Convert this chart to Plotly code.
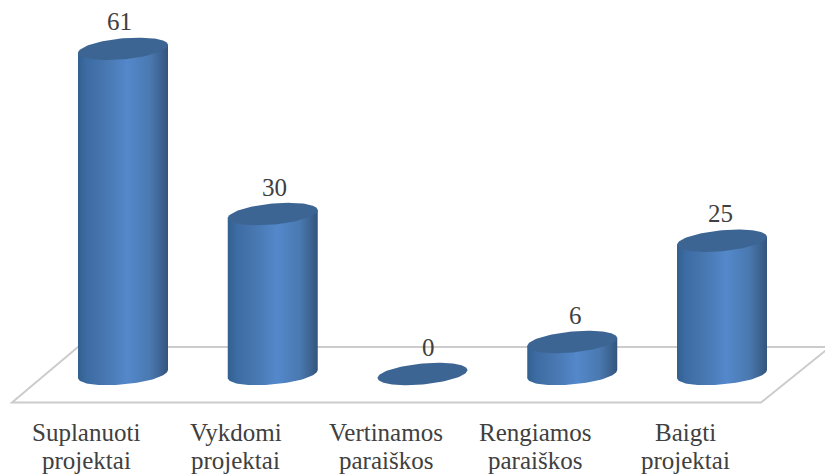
import numpy as np
import plotly.graph_objects as go

categories = [["Suplanuoti", "projektai"], ["Vykdomi", "projektai"], ["Vertinamos", "paraiškos"],
              ["Rengiamos", "paraiškos"], ["Baigti", "projektai"]]
values = [61, 30, 0, 6, 25]
value_label_shift_x = [-4, 2, 6, 3, -2]

W, H = 825, 475
PX_X = 149.75      # pixels per category
PX_Y = 5.33        # pixels per unit
X0_PX, Y0_PX = 123, 374

half_w = 45 / PX_X
minor = 10.5 / PX_Y
shear = 4 / PX_Y
t = np.linspace(0, 2 * np.pi, 121)
t_low = np.linspace(2 * np.pi, np.pi, 61)   # right -> left along the front edge

gradient = [[0, "#32608f"], [0.1, "#3d6ca4"], [0.3, "#4877b0"], [0.55, "#5388cb"],
            [0.8, "#4a79b0"], [0.93, "#3c628f"], [1, "#34547d"]]
cap = "#3d6593"

fig = go.Figure()
for i, v in enumerate(values):
    if v > 0:
        xb = i + half_w * np.cos(t_low)
        yb = minor * np.sin(t_low) + shear * np.cos(t_low)
        xs = np.concatenate([[i - half_w, i + half_w], xb])
        ys = np.concatenate([[v - shear, v + shear], yb])
        fig.add_trace(go.Scatter(
            x=xs, y=ys, mode="lines", line=dict(width=0), fill="toself",
            fillgradient=dict(type="horizontal", colorscale=gradient),
            hoverinfo="skip", showlegend=False))
    fig.add_trace(go.Scatter(
        x=i + half_w * np.cos(t), y=v + minor * np.sin(t) + shear * np.cos(t),
        mode="lines", line=dict(width=0), fill="toself", fillcolor=cap,
        hoverinfo="skip", showlegend=False))

annotations = []
label_font = dict(family="Liberation Serif", size=25, color="#404040")
for i, (c, v) in enumerate(zip(categories, values)):
    for j, line in enumerate(c):
        annotations.append(dict(x=i, y=0, xref="x", yref="y", text=line, showarrow=False,
                                xshift=-37, yshift=-58 - 28.5 * j, align="center", font=label_font))
    annotations.append(dict(x=i, y=v, xref="x", yref="y", text=str(v), showarrow=False,
                            xshift=value_label_shift_x[i], yshift=27, font=label_font))

floor = dict(type="path", xref="paper", yref="paper", layer="below",
             path=f"M {12/W} {1-402.5/H} L {78/W} {1-347/H} L {830/W} {1-347/H} L {761/W} {1-402.5/H} Z",
             line=dict(color="#cccccc", width=2), fillcolor="rgba(0,0,0,0)")

fig.update_layout(
    width=W, height=H, margin=dict(l=0, r=0, t=0, b=0),
    paper_bgcolor="white", plot_bgcolor="white", showlegend=False,
    xaxis=dict(range=[-X0_PX / PX_X, (W - X0_PX) / PX_X], visible=False, fixedrange=True),
    yaxis=dict(range=[-(H - Y0_PX) / PX_Y, Y0_PX / PX_Y], visible=False, fixedrange=True),
    shapes=[floor], annotations=annotations,
)
fig.write_html("out.html", config=dict(displayModeBar=False),
               post_script="document.body.style.margin='0';document.documentElement.style.overflow='hidden';")
